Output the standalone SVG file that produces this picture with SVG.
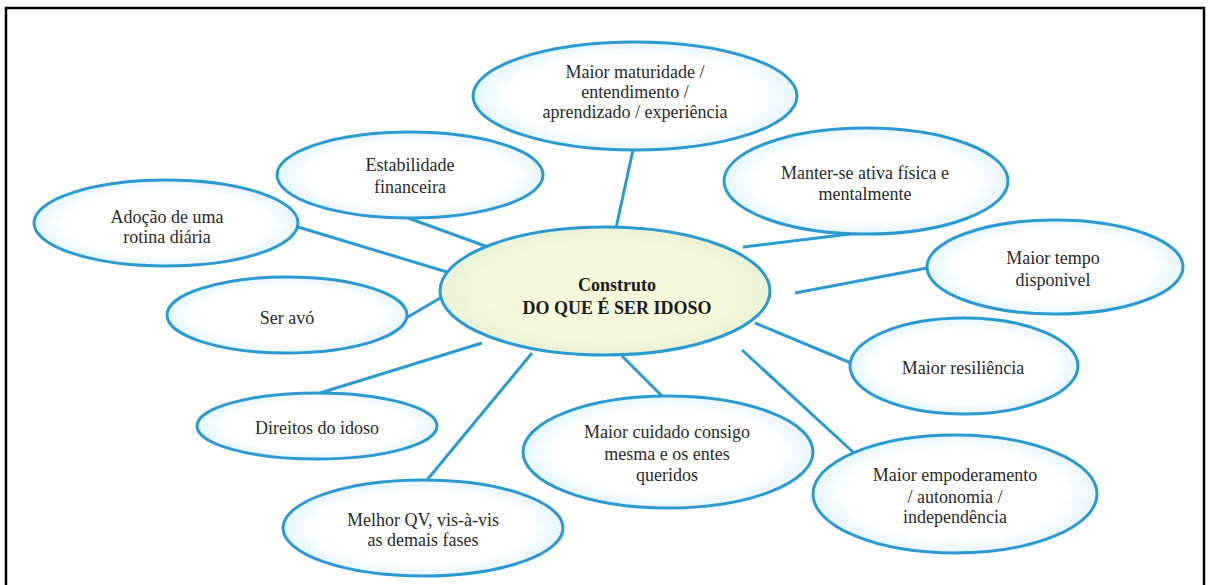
<svg xmlns="http://www.w3.org/2000/svg" width="1209" height="585" viewBox="0 0 1209 585">
<defs>
<radialGradient id="gw" cx="50%" cy="50%" r="50%">
<stop offset="0.75" stop-color="#ffffff"/>
<stop offset="1" stop-color="#e6f5fc"/>
</radialGradient>
<radialGradient id="gy" cx="50%" cy="50%" r="50%">
<stop offset="0.7" stop-color="#f5f8dc"/>
<stop offset="1" stop-color="#eaf3d6"/>
</radialGradient>
</defs>
<style>
.n{fill:url(#gw);stroke:#2b9ad0;stroke-width:3}
.c{fill:url(#gy);stroke:#2b9ad0;stroke-width:3}
.l{stroke:#2b9ad0;stroke-width:3;fill:none}
.t{font-size:18px;fill:#2a2a2a;text-anchor:middle}
.b{font-weight:bold;fill:#1a1a1a}
</style>
<rect x="0" y="0" width="1209" height="585" fill="#ffffff"/>
<rect x="6" y="8" width="1198" height="590" fill="none" stroke="#000" stroke-width="2.5"/>
<g id="connectors">
<line class="l" x1="633" y1="150" x2="616" y2="228"/>
<line class="l" x1="408" y1="218" x2="488" y2="247"/>
<line class="l" x1="298" y1="227" x2="447" y2="272"/>
<line class="l" x1="406" y1="318" x2="442" y2="297"/>
<line class="l" x1="320" y1="393" x2="482" y2="343"/>
<line class="l" x1="427" y1="480" x2="532" y2="353"/>
<line class="l" x1="663" y1="397" x2="622" y2="356"/>
<line class="l" x1="853" y1="452" x2="742" y2="350"/>
<line class="l" x1="851" y1="363" x2="755" y2="323"/>
<line class="l" x1="927" y1="268" x2="795" y2="293"/>
<line class="l" x1="850" y1="234" x2="743" y2="247"/>
</g>
<g font-family="Liberation Serif, DejaVu Serif, Times New Roman, serif">
<g id="n-maturidade">
<ellipse class="n" cx="635" cy="96" rx="162" ry="54"/>
<text class="t" x="635" y="78">Maior maturidade /</text>
<text class="t" x="635" y="98">entendimento /</text>
<text class="t" x="635" y="118">aprendizado / experiência</text>
</g>
<g id="n-estabilidade">
<ellipse class="n" cx="410" cy="175" rx="133" ry="43"/>
<text class="t" x="410" y="171">Estabilidade</text>
<text class="t" x="410" y="193">financeira</text>
</g>
<g id="n-manter">
<ellipse class="n" cx="866" cy="181" rx="142" ry="53"/>
<text class="t" x="865" y="179">Manter-se ativa física e</text>
<text class="t" x="865" y="200">mentalmente</text>
</g>
<g id="n-adocao">
<ellipse class="n" cx="166" cy="223" rx="132" ry="43"/>
<text class="t" x="167" y="223">Adoção de uma</text>
<text class="t" x="167" y="243">rotina diária</text>
</g>
<g id="n-tempo">
<ellipse class="n" cx="1055" cy="267" rx="128" ry="47"/>
<text class="t" x="1053" y="264">Maior tempo</text>
<text class="t" x="1053" y="286">disponivel</text>
</g>
<g id="n-seravo">
<ellipse class="n" cx="287" cy="315" rx="120" ry="38"/>
<text class="t" x="287" y="324">Ser avó</text>
</g>
<g id="n-resiliencia">
<ellipse class="n" cx="964" cy="366" rx="114" ry="48"/>
<text class="t" x="963" y="374">Maior resiliência</text>
</g>
<g id="n-direitos">
<ellipse class="n" cx="317" cy="426" rx="120" ry="33"/>
<text class="t" x="317" y="434">Direitos do idoso</text>
</g>
<g id="n-cuidado">
<ellipse class="n" cx="668" cy="452" rx="145" ry="56"/>
<text class="t" x="667" y="438">Maior cuidado consigo</text>
<text class="t" x="667" y="460">mesma e os entes</text>
<text class="t" x="667" y="481">queridos</text>
</g>
<g id="n-empoderamento">
<ellipse class="n" cx="955" cy="494" rx="142" ry="59"/>
<text class="t" x="955" y="481">Maior empoderamento</text>
<text class="t" x="955" y="503">/ autonomia /</text>
<text class="t" x="955" y="523">independência</text>
</g>
<g id="n-qv">
<ellipse class="n" cx="423" cy="528" rx="140" ry="48"/>
<text class="t" x="423" y="526">Melhor QV, vis-à-vis</text>
<text class="t" x="423" y="546">as demais fases</text>
</g>
<g id="n-center">
<ellipse class="c" cx="605" cy="291" rx="165" ry="64"/>
<text class="t b" x="617" y="291">Construto</text>
<text class="t b" x="617" y="314">DO QUE É SER IDOSO</text>
</g>
</g>
</svg>
